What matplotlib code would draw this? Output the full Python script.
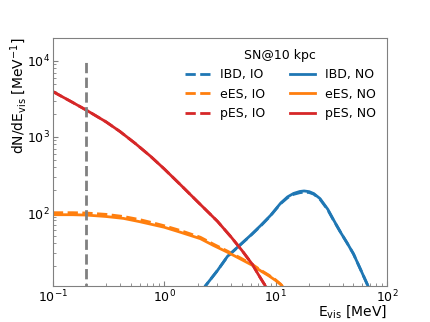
import matplotlib
matplotlib.use('Agg')
import matplotlib.pyplot as plt

# pES (proton elastic scattering)
pes_e = [0.1, 0.15, 0.2, 0.3, 0.4, 0.55, 0.75, 1.0, 1.4, 2.0, 3.0, 4.0, 5.0, 6.2, 7.0, 7.8, 8.6]
pes_no = [3950, 2850, 2250, 1580, 1180, 820, 560, 380, 235, 140, 78, 48, 32, 21, 15.5, 12, 9.5]
pes_io = [3950, 2850, 2250, 1580, 1180, 820, 560, 380, 235, 140, 78, 48, 32, 21, 15.5, 12, 9.5]

# eES (electron elastic scattering)
ees_e = [0.1, 0.15, 0.2, 0.3, 0.43, 0.6, 0.8, 1.0, 1.39, 2.11, 2.76, 3.7, 4.8, 6.2, 7.5, 8.65, 10, 11.1, 12.5]
ees_no = [95, 95, 94, 90, 85, 77, 70, 65, 56, 46, 37.5, 30.5, 25, 20.5, 17, 15, 13, 11.5, 9.5]
ees_io = [101, 101, 100, 96, 90, 82, 74, 68, 59, 48, 39, 31.5, 25.8, 21, 17.4, 15.3, 13.2, 11.6, 9.5]

# IBD (inverse beta decay)
ibd_e = [2.2, 2.34, 3.0, 3.7, 4.64, 5.96, 7.3, 9, 10, 11.1, 12.8, 14.5, 16.5, 18, 20, 22, 25,
         29.4, 33, 38.5, 44, 50, 58, 67.5, 72]
ibd_no = [9.5, 11, 17.5, 27, 36.5, 51, 68, 93, 112, 135, 163, 181, 192, 195, 191, 180, 155,
          112, 82, 55, 40, 29, 18, 11, 9]
ibd_io = [9.5, 11, 17.5, 26.8, 36.3, 50.5, 67, 92, 111, 133, 159, 176, 185, 188, 186, 177, 152,
          110, 81, 55, 40, 29, 18, 11, 9]

blue, orange, red = '#1f77b4', '#ff7f0e', '#d62728'

fig, ax = plt.subplots(figsize=(4.3, 3.22), dpi=100)
ax.plot(ibd_e, ibd_io, '--', color=blue, lw=2, label='IBD, IO')
ax.plot(ees_e, ees_io, '--', color=orange, lw=2, label='eES, IO')
ax.plot(pes_e, pes_io, '--', color=red, lw=2, label='pES, IO')
ax.plot(ibd_e, ibd_no, '-', color=blue, lw=2, label='IBD, NO')
ax.plot(ees_e, ees_no, '-', color=orange, lw=2, label='eES, NO')
ax.plot(pes_e, pes_no, '-', color=red, lw=2, label='pES, NO')
ax.plot([0.2, 0.2], [1, 1e4], '--', color='gray', lw=2)

ax.set_xscale('log')
ax.set_yscale('log')
ax.set_xlim(0.1, 100)
ax.set_ylim(11, 2e4)
ax.set_xlabel(r'E$_{\rm vis}$ [MeV]', loc='right', fontsize=10)
ax.set_ylabel(r'dN/dE$_{\rm vis}$ [MeV$^{-1}$]', loc='top', fontsize=10)
ax.xaxis.set_label_coords(1.0, -0.068)
ax.yaxis.set_label_coords(-0.072, 1.0)
ax.tick_params(which='both', direction='in', color='gray', labelsize=9, pad=2)
for s in ax.spines.values():
    s.set_color('gray')
ax.legend(ncol=2, frameon=False, title='SN@10 kpc', fontsize=9,
          title_fontsize=9, loc='upper right')
fig.subplots_adjust(left=0.123, right=0.9, top=0.882, bottom=0.112)
fig.savefig('out.png', dpi=100)
